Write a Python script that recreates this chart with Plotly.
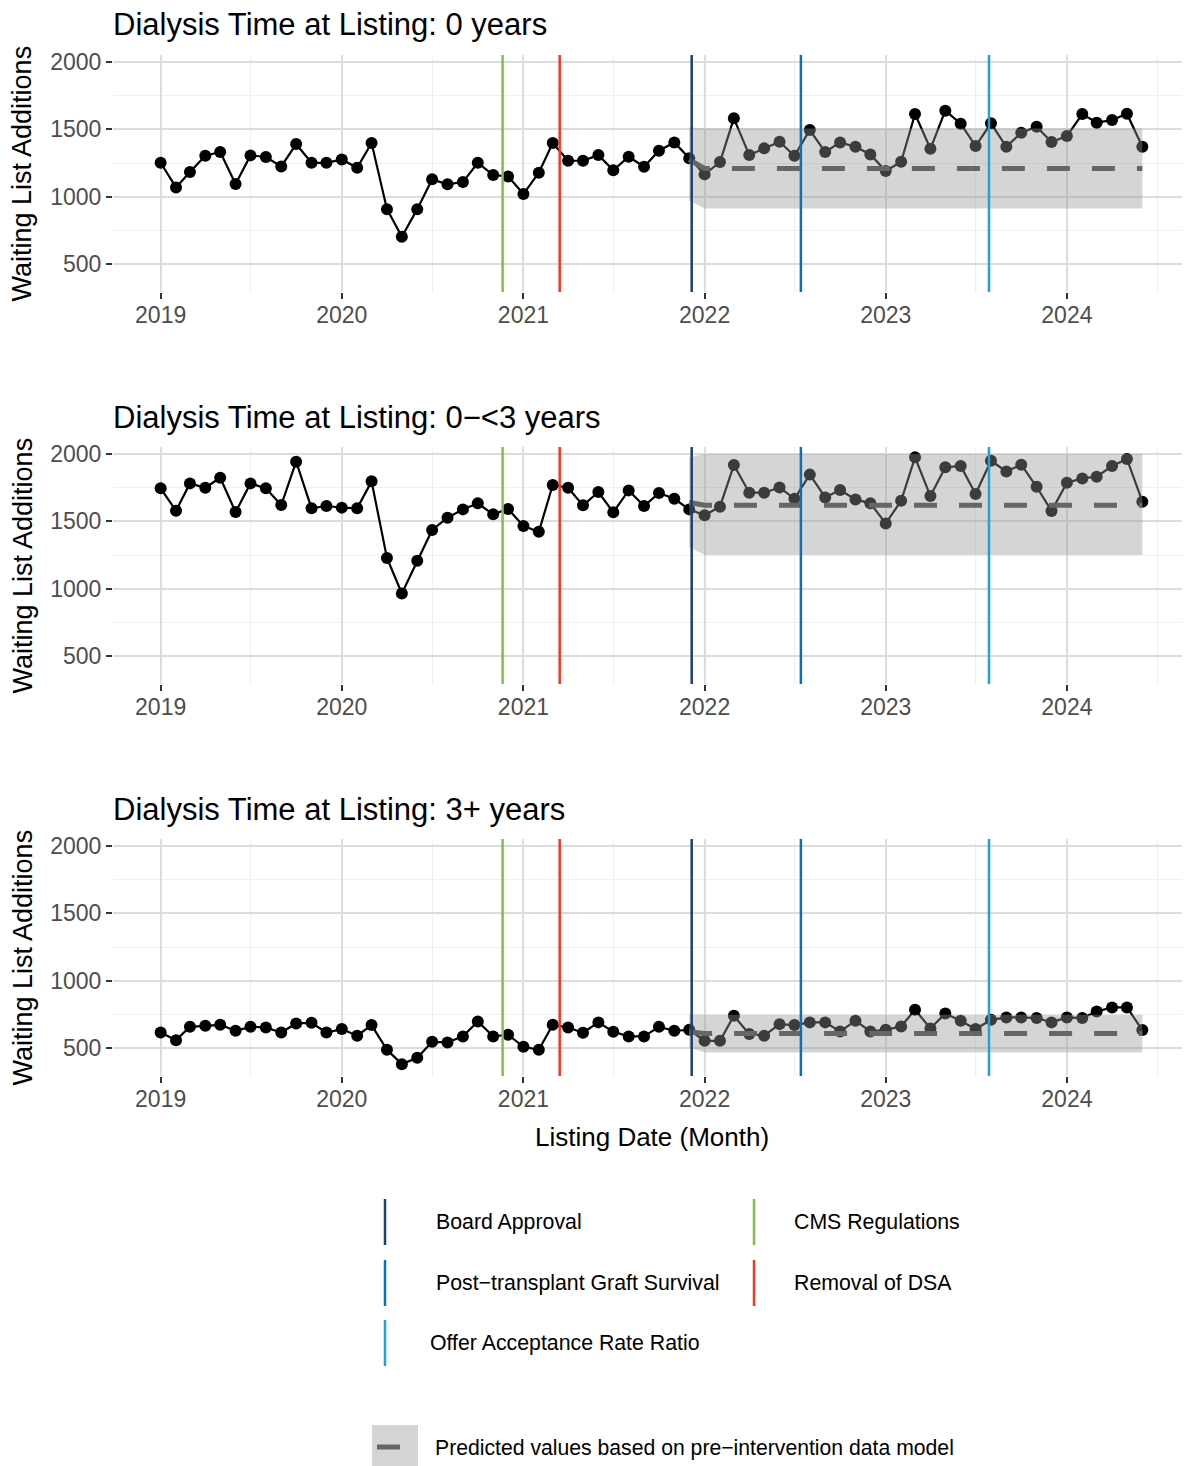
import plotly.graph_objects as go
import pandas as pd

# page body has an 8px default margin; the figure is sized so the visible page matches 1190x1466
OFF = 8
W, H = 1190 - OFF, 1466 - OFF

# ---------------- data ----------------
months = pd.date_range("2019-01-01", "2024-06-01", freq="MS")
pred_months = pd.date_range("2021-12-01", "2024-06-01", freq="MS")

panel_titles = [
    "Dialysis Time at Listing: 0 years",
    "Dialysis Time at Listing: 0\u2212<3 years",
    "Dialysis Time at Listing: 3+ years",
]

adds_0 = [1252, 1069, 1183, 1304, 1332, 1094, 1307, 1295, 1225, 1391, 1252, 1252,
          1277, 1215, 1399, 908, 703, 908, 1129, 1092, 1109, 1252, 1161, 1151,
          1020, 1178, 1399, 1267, 1267, 1309, 1196, 1297, 1223, 1342, 1403, 1285,
          1166, 1257, 1582, 1309, 1359, 1408, 1304, 1495, 1332, 1403, 1371, 1314,
          1191, 1260, 1614, 1356, 1639, 1542, 1376, 1545, 1371, 1475, 1520, 1406,
          1450, 1614, 1550, 1569, 1616, 1371]
adds_0_3 = [1745, 1579, 1782, 1750, 1824, 1569, 1782, 1745, 1621, 1943, 1597, 1614,
            1602, 1597, 1797, 1228, 965, 1208, 1436, 1527, 1589, 1634, 1552, 1592,
            1465, 1423, 1770, 1750, 1619, 1718, 1567, 1730, 1614, 1710, 1668, 1589,
            1545, 1609, 1918, 1713, 1713, 1752, 1668, 1847, 1678, 1733, 1663, 1634,
            1485, 1653, 1975, 1688, 1901, 1911, 1703, 1950, 1871, 1921, 1757, 1577,
            1787, 1819, 1832, 1911, 1963, 1646]
adds_3p = [616, 559, 658, 666, 673, 629, 658, 653, 616, 683, 688, 616,
           641, 592, 671, 488, 381, 428, 547, 542, 587, 698, 587, 599,
           510, 488, 673, 653, 614, 691, 621, 587, 587, 658, 629, 636,
           554, 554, 740, 604, 592, 678, 671, 691, 691, 624, 703, 624,
           636, 661, 785, 646, 757, 703, 641, 710, 728, 728, 723, 691,
           728, 723, 772, 802, 802, 634]

pred_0 = [1275] + [1210] * 30
lo_0 = [970] + [913] * 30
hi_0 = [1515] + [1507] * 30
pred_0_3 = [1640] + [1620] * 30
lo_0_3 = [1310] + [1250] * 30
hi_0_3 = [1975] + [2000] * 30
pred_3p = [622] + [608] * 30
lo_3p = [505] + [468] * 30
hi_3p = [750] + [748] * 30

series = [adds_0, adds_0_3, adds_3p]
preds = [pred_0, pred_0_3, pred_3p]
los = [lo_0, lo_0_3, lo_3p]
his = [hi_0, hi_0_3, hi_3p]

intervention_names = ["Board Approval", "CMS Regulations", "Post\u2212transplant Graft Survival",
                      "Removal of DSA", "Offer Acceptance Rate Ratio"]
intervention_dates = ["2021-12-06", "2020-11-20", "2022-07-14", "2021-03-15", "2023-07-28"]
intervention_colors = ["#1B3F6E", "#7DC242", "#0B6FBA", "#EC3A2A", "#1FA3DE"]

y_ticks = [500, 1000, 1500, 2000]
x_tick_vals = ["2019-01-01", "2020-01-01", "2021-01-01", "2022-01-01", "2023-01-01", "2024-01-01"]
x_tick_text = ["2019", "2020", "2021", "2022", "2023", "2024"]

# ---------------- layout geometry (target page pixels) ----------------
FONT = "Liberation Sans, Arial, sans-serif"
px_left, px_right = 113, 1188
panel_tops = [55, 447, 839]
panel_h = 237


def fx(px):
    return (px - OFF) / W


def fy(py):
    return 1 - (py - OFF) / H


fig = go.Figure()
layout = dict(
    width=W, height=H, margin=dict(l=0, r=0, t=0, b=0),
    paper_bgcolor="white", plot_bgcolor="white",
    showlegend=False, font=dict(family=FONT, color="black"),
)
shapes = []
annotations = []

for i in range(3):
    sfx = "" if i == 0 else str(i + 1)
    xa, ya = "x" + sfx, "y" + sfx
    top = panel_tops[i]
    layout["xaxis" + sfx] = dict(
        domain=[fx(px_left), fx(px_right)], anchor=ya, type="date",
        range=["2018-09-27", "2024-09-01"],
        tickmode="array", tickvals=x_tick_vals, ticktext=x_tick_text,
        ticks="outside", ticklen=6, tickwidth=2, tickcolor="#333333",
        ticklabelstandoff=-4,
        tickfont=dict(size=23, color="#4D4D4D", family=FONT),
        showgrid=True, gridcolor="#DCDCDC", gridwidth=2.2,
        minor=dict(dtick="M6", tick0="2019-01-01", showgrid=True, gridcolor="#EFEFEF", gridwidth=1.1),
        showline=False, zeroline=False, automargin=False,
    )
    layout["yaxis" + sfx] = dict(
        domain=[fy(top + panel_h), fy(top)], anchor=xa,
        range=[293, 2052],
        tickmode="array", tickvals=y_ticks, ticktext=[str(v) for v in y_ticks],
        ticks="outside", ticklen=6, tickwidth=2, tickcolor="#333333",
        tickfont=dict(size=23, color="#4D4D4D", family=FONT),
        showgrid=True, gridcolor="#DCDCDC", gridwidth=2.2,
        minor=dict(dtick=250, tick0=0, showgrid=True, gridcolor="#EFEFEF", gridwidth=1.1),
        showline=False, zeroline=False, automargin=False,
    )

    # observed series
    fig.add_trace(go.Scatter(
        x=months, y=series[i], xaxis=xa, yaxis=ya, mode="lines+markers",
        line=dict(color="black", width=2.2), marker=dict(color="black", size=12),
        hoverinfo="skip",
    ))
    # prediction band (drawn over the observed points, semi-transparent)
    fig.add_trace(go.Scatter(
        x=list(pred_months) + list(pred_months[::-1]),
        y=his[i] + los[i][::-1],
        xaxis=xa, yaxis=ya, mode="lines", fill="toself",
        fillcolor="rgba(150,150,150,0.4)", line=dict(width=0, color="rgba(0,0,0,0)"),
        hoverinfo="skip",
    ))
    # predicted line
    fig.add_trace(go.Scatter(
        x=pred_months, y=preds[i], xaxis=xa, yaxis=ya, mode="lines",
        line=dict(color="#666666", width=5, dash="23px,22px"),
        hoverinfo="skip",
    ))

    # intervention vertical lines
    for d, c in zip(intervention_dates, intervention_colors):
        shapes.append(dict(type="line", xref=xa, yref=ya + " domain", x0=d, x1=d, y0=0, y1=1,
                           line=dict(color=c, width=2.5), layer="above"))

    # panel title
    annotations.append(dict(text=panel_titles[i], x=fx(112), y=fy(top - 30), xref="paper", yref="paper",
                            xanchor="left", yanchor="middle", showarrow=False, borderpad=0,
                            font=dict(size=31, color="black", family=FONT)))
    # y axis title
    annotations.append(dict(text="Waiting List Additions", x=fx(22), y=fy(top + panel_h / 2),
                            xref="paper", yref="paper", xanchor="center", yanchor="middle",
                            textangle=-90, showarrow=False,
                            font=dict(size=27, color="black", family=FONT)))

# x axis title
annotations.append(dict(text="Listing Date (Month)", x=fx(652), y=fy(1137), xref="paper", yref="paper",
                        xanchor="center", yanchor="middle", showarrow=False,
                        font=dict(size=26, color="black", family=FONT)))

# ---------------- legend (drawn manually) ----------------
leg_layout = [  # (key x, text x, row center y)
    (385, 434, 1222),   # Board Approval
    (754, 792, 1222),   # CMS Regulations
    (385, 434, 1283),   # Post-transplant
    (754, 792, 1283),   # Removal of DSA
    (385, 428, 1343),   # Offer Acceptance
]
for name, col, (kx, tx, cy) in zip(intervention_names, intervention_colors, leg_layout):
    shapes.append(dict(type="line", xref="paper", yref="paper", x0=fx(kx), x1=fx(kx),
                       y0=fy(cy - 23), y1=fy(cy + 23), line=dict(color=col, width=2.5)))
    annotations.append(dict(text=name, x=fx(tx), y=fy(cy), xref="paper", yref="paper",
                            xanchor="left", yanchor="middle", showarrow=False,
                            font=dict(size=21.3, color="black", family=FONT)))

shapes.append(dict(type="rect", xref="paper", yref="paper", x0=fx(372), x1=fx(418),
                   y0=fy(1466), y1=fy(1425), fillcolor="#D4D4D4", line=dict(width=0)))
shapes.append(dict(type="line", xref="paper", yref="paper", x0=fx(377), x1=fx(400),
                   y0=fy(1447), y1=fy(1447), line=dict(color="#666666", width=5)))
annotations.append(dict(text="Predicted values based on pre\u2212intervention data model",
                        x=fx(433), y=fy(1448), xref="paper", yref="paper",
                        xanchor="left", yanchor="middle", showarrow=False,
                        font=dict(size=21.2, color="black", family=FONT)))

layout["shapes"] = shapes
layout["annotations"] = annotations
fig.update_layout(**layout)
fig.write_html("out.html")
